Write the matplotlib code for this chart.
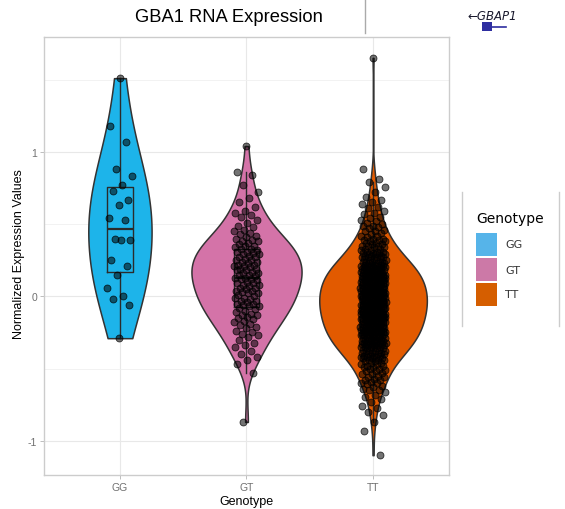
import numpy as np
import matplotlib
matplotlib.use('Agg')
import matplotlib.pyplot as plt
from matplotlib.patches import Rectangle
from matplotlib.lines import Line2D

plt.rcParams['font.family'] = ['Liberation Sans', 'DejaVu Sans']

genotypes = ['GG', 'GT', 'TT']
violin_colors = ['#1db4ea', '#d473a8', '#e25a00']
legend_colors = ['#56b4e9', '#cc79a7', '#d55e00']

# normalized expression per genotype (x100)
gg = np.array([151, 118, 107, 88, 83, 77, 73, 67, 63, 54, 53, 40, 39, 39, 25, 21,
               15, 6, 0, -2, -6, -29]) / 100

gt = np.array([104, 86, 84, 77, 72, 68, 65, 62, 59, 58, 56, 55, 53, 51,
               49, 48, 46, 45, 44, 43, 42, 41, 40,
               39, 38, 38, 37, 36, 35, 35, 34, 33, 33, 32, 31, 31, 30,
               29, 29, 28, 27, 27, 26, 25, 25, 24, 24, 23, 22, 22, 21, 21, 20,
               19, 19, 18, 18, 17, 16, 16, 15, 15, 14, 13, 13, 12, 12, 11, 10,
               9, 9, 8, 8, 7, 6, 6, 5, 4, 4, 3, 2, 2, 1, 0,
               -1, -1, -2, -3, -3, -4, -5, -5, -6, -7, -7, -8, -9, -10,
               -11, -12, -13, -13, -14, -15, -16, -17, -18, -19, -20,
               -21, -22, -24, -25, -26, -27, -28, -30,
               -32, -34, -35, -38, -40,
               -42, -44, -47, -53, -87]) / 100

tt = np.array("""
165 88 81 79 76 72 69 67 65 64 62 61 59 58 57 55 54 53 52 51 50
49 49 48 47 46 45 45 44 43 42 42 41 40 40
39 39 38 38 37 37 36 36 35 35 35 34 34 33 33 32 32 31 31 31 30 30 30
29 29 29 28 28 28 27 27 27 27 26 26 26 25 25 25 24 24 24 24 23 23 23
22 22 22 22 21 21 21 21 20 20 20 20 20
19 19 19 19 19 18 18 18 18 18 17 17 17 17 17 16 16 16 16 16 15 15 15 15 15
14 14 14 14 14 13 13 13 13 13 12 12 12 12 12 11 11 11 11 11 10 10 10 10
9 9 9 9 9 9 8 8 8 8 8 7 7 7 7 7 7 6 6 6 6 6 5 5 5 5 5 5
4 4 4 4 4 3 3 3 3 3 3 2 2 2 2 2 1 1 1 1 1 1 0 0 0 0 0
-1 -1 -1 -1 -1 -1 -2 -2 -2 -2 -2 -3 -3 -3 -3 -3 -3 -4 -4 -4 -4 -4
-5 -5 -5 -5 -5 -5 -6 -6 -6 -6 -6 -7 -7 -7 -7 -7 -7 -8 -8 -8 -8 -8
-9 -9 -9 -9 -9 -9 -10 -10 -10 -10 -10
-11 -11 -11 -11 -11 -12 -12 -12 -12 -12 -12 -13 -13 -13 -13 -13
-14 -14 -14 -14 -14 -15 -15 -15 -15 -15 -15 -16 -16 -16 -16 -16
-17 -17 -17 -17 -17 -18 -18 -18 -18 -18 -19 -19 -19 -19 -19 -20 -20 -20 -20 -20
-21 -21 -21 -21 -21 -22 -22 -22 -22 -22 -23 -23 -23 -23 -23 -24 -24 -24 -24 -24
-25 -25 -25 -25 -25 -26 -26 -26 -26 -26 -27 -27 -27 -27 -27
-28 -28 -28 -28 -29 -29 -29 -29 -30 -30 -30 -30
-31 -31 -31 -31 -31 -32 -32 -32 -32 -32 -33 -33 -33 -33 -34 -34 -34 -34
-35 -35 -35 -35 -36 -36 -36 -36 -37 -37 -37 -38 -38 -38 -39 -39 -39 -40 -40 -40
-41 -41 -41 -41 -42 -42 -42 -43 -43 -43 -44 -44 -44
-45 -45 -46 -46 -47 -47 -48 -48 -49 -49 -50 -50
-51 -52 -52 -53 -54 -54 -55 -56 -56 -57 -58 -58 -59 -60 -60
-61 -62 -63 -64 -65 -65 -66 -68 -70 -71 -73 -76 -77 -80 -82 -87 -93 -110
""".split(), dtype=float) / 100

groups = [gg, gt, tt]

W, H = 565, 510


def fx(px):
    return px / W


def fy(py):
    return 1 - py / H


def nrd0(adjust=1.0):
    # R's default bandwidth (bw.nrd0) expressed as a factor of the sample sd
    def factor(kde):
        x = kde.dataset.ravel()
        sd = x.std(ddof=1)
        iqr = np.subtract(*np.percentile(x, [75, 25]))
        h = 0.9 * min(sd, iqr / 1.34) * len(x) ** -0.2
        return adjust * h / sd
    return factor


fig = plt.figure(figsize=(W / 100, H / 100), dpi=100)
ax = fig.add_axes([fx(44), fy(475.7), (449 - 44) / W, (475.7 - 37.7) / H])
ax.set_xlim(0.4, 3.6)
ax.set_ylim(-1.235, 1.797)

ax.set_xticks([1, 2, 3])
ax.set_xticklabels(genotypes)
ax.set_yticks([-1, 0, 1])
ax.set_yticklabels(['-1', '0', '1'])
ax.set_yticks([-0.5, 0.5, 1.5], minor=True)
ax.grid(which='major', color='#e8e8e8', lw=0.8)
ax.grid(which='minor', axis='y', color='#f0f0f0', lw=0.6)
ax.set_axisbelow(True)
ax.tick_params(which='major', length=2.75, color='#b3b3b3', width=0.6,
               labelsize=7.5, labelcolor='#707070', pad=2.2)
ax.tick_params(which='minor', length=0)
for s in ax.spines.values():
    s.set_color('#cccccc')
    s.set_linewidth(1)

widths = [0.5, 0.87, 0.85]
bw_adjust = [1.45, 1.0, 1.0]
for i, vals in enumerate(groups):
    parts = ax.violinplot([vals], positions=[i + 1], widths=widths[i],
                          showextrema=False, points=512,
                          bw_method=nrd0(bw_adjust[i]))
    body = parts['bodies'][0]
    body.set_facecolor(violin_colors[i])
    body.set_edgecolor('#333333')
    body.set_linewidth(1.1)
    body.set_alpha(1)
    body.set_zorder(2)

line_kw = dict(color='#2b2b2b', lw=1.0)
bp = ax.boxplot(groups, positions=[1, 2, 3], widths=0.2, showfliers=False,
                showcaps=False, manage_ticks=False, boxprops=line_kw,
                whiskerprops=line_kw, medianprops=dict(color='#2b2b2b', lw=1.6))
for k in ['boxes', 'whiskers', 'medians']:
    for a in bp[k]:
        a.set_zorder(3)

for i, vals in enumerate(groups):
    off = ((np.arange(len(vals)) * 0.618034 + 0.5) % 1 - 0.5) * 0.2
    ax.scatter(i + 1 + off, vals, s=25, facecolors=[(0, 0, 0, 0.55)],
               edgecolors=[(0, 0, 0, 0.75)], linewidths=0.6, zorder=4)

fig.text(fx(228.6), fy(17), 'GBA1 RNA Expression', fontsize=13.2,
         ha='center', va='center')
fig.text(fx(19), fy(254), 'Normalized Expression Values', rotation=90,
         fontsize=9, ha='center', va='center')
fig.text(fx(246.5), fy(502), 'Genotype', fontsize=9, ha='center', va='center')

# legend
fig.text(fx(476), fy(219), 'Genotype', fontsize=10, family='DejaVu Sans',
         ha='left', va='center')
for j, (g, c) in enumerate(zip(genotypes, legend_colors)):
    top = 234 + 25 * j
    fig.add_artist(Rectangle((fx(476), fy(top + 23)), 21 / W, 23 / H,
                             transform=fig.transFigure, facecolor=c,
                             edgecolor='none'))
    fig.text(fx(505), fy(top + 11.5), g, fontsize=8, family='DejaVu Sans',
             ha='left', va='center', color='#333333')
for lx in (462, 559):
    fig.add_artist(Line2D([fx(lx), fx(lx)], [fy(193), fy(327)],
                          transform=fig.transFigure, color='#cccccc', lw=1))

# browser track fragment at top right
fig.add_artist(Line2D([fx(365), fx(365)], [fy(0), fy(34)],
                      transform=fig.transFigure, color='#aaaaaa', lw=1))
fig.text(fx(467), fy(16), '\u2190GBAP1', fontsize=8.5, style='italic',
         family='DejaVu Sans', ha='left', va='center', color='#1a1a2e')
fig.add_artist(Rectangle((fx(482), fy(32)), 10 / W, 9 / H,
                         transform=fig.transFigure, facecolor='#2e2ea0',
                         edgecolor='none'))
fig.add_artist(Line2D([fx(492), fx(506)], [fy(28), fy(28)],
                      transform=fig.transFigure, color='#2e2ea0', lw=1.2))

fig.savefig('out.png', dpi=100)
